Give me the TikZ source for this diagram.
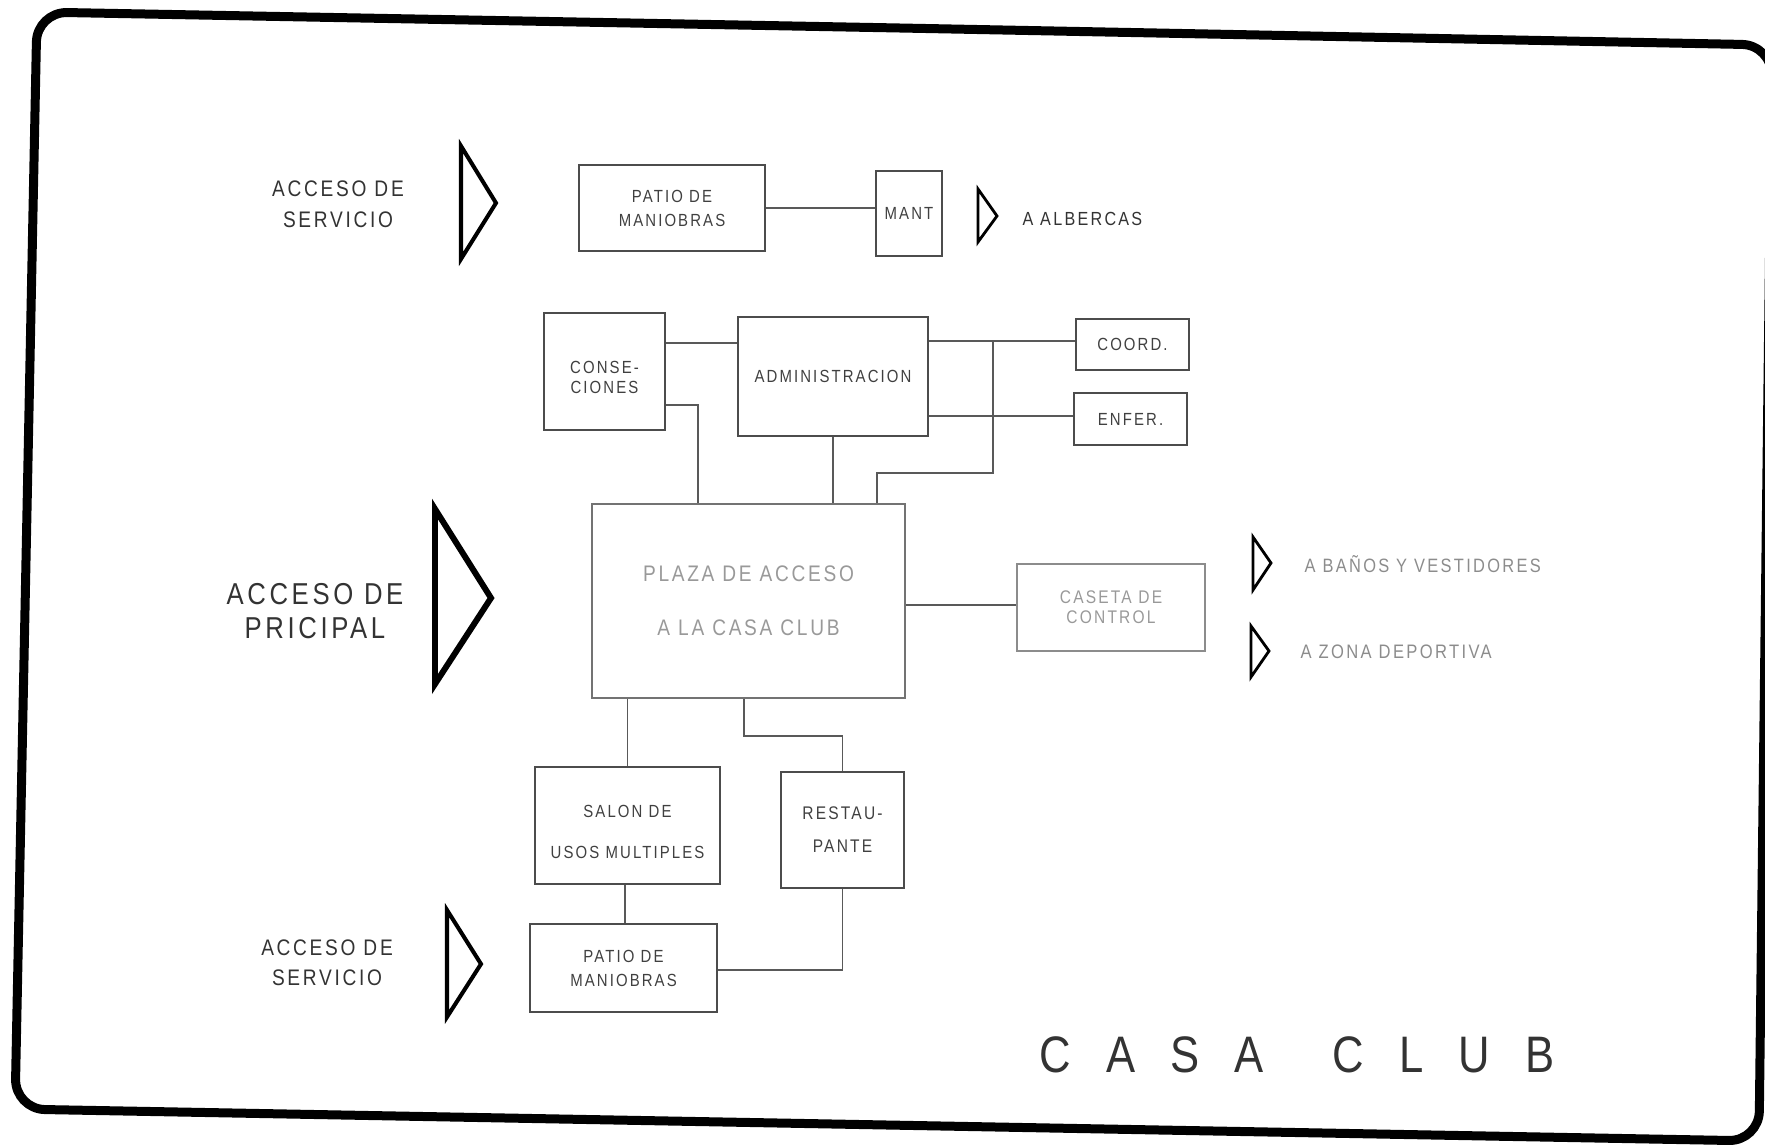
\documentclass[tikz,border=0pt]{standalone}
\usepackage{fontspec}
% condensed, slightly tracked sans for the plotter-style lettering
\newfontfamily\plotfont[FakeStretch=0.85,LetterSpace=12]{Liberation Sans}
\newfontfamily\titlefont[FakeStretch=0.85]{Liberation Sans}

\tikzset{
  box/.style={draw=black!70, line width=0.5pt, inner sep=0pt, align=center,
    text=black!75, font=\plotfont\fontsize{5}{6.8}\selectfont},
  fadedbox/.style={box, draw=black!45, text=black!40},
  size/.style 2 args={minimum width=#1mm, minimum height=#2mm},
  link/.style={draw=black!65, line width=0.5pt},
  tag/.style={inner sep=0pt, align=center, text=black!80},
  portal/.style={line width=1.15pt, line join=miter},
  bigportal/.style={line width=1.7pt, line join=miter},
  smallportal/.style={line width=0.8pt, line join=miter},
}

\begin{document}
\begin{tikzpicture}[x=0.1mm,y=-0.1mm]
\useasboundingbox (0,0) rectangle (1765,1145);

% sheet frame
\draw[line width=0.9mm, rounded corners=3mm]
  (900,28) -- (1772,45) -- (1759,1141) -- (15,1109) -- (37,12) -- cycle;

% ---- service yard row ----
\node[tag, font=\plotfont\fontsize{6.4}{8.8}\selectfont] (accA) at (338,204) {ACCESO DE\\SERVICIO};
\draw[portal] (461,146) -- (496,203) -- (461,259) -- cycle;

\node[box, size={18.6}{8.6}] (pmA) at (672,208) {PATIO DE\\MANIOBRAS};
\node[box, size={6.6}{8.5}] (mant) at (909,213.5) {MANT};
\draw[smallportal] (978,189) -- (997,216) -- (978,242) -- cycle;
\node[tag, anchor=west, font=\plotfont\fontsize{5.4}{7}\selectfont] (alb) at (1022,219) {A ALBERCAS};

% ---- administration block ----
\node[box, size={12.1}{11.7}, text height=12.7pt, font=\plotfont\fontsize{5}{5.8}\selectfont] (cons) at (604.5,371.5) {CONSE-\\CIONES};
\node[box, size={19.0}{11.9}] (adm) at (833,376.5) {ADMINISTRACION};
\node[box, size={11.3}{5.1}] (coord) at (1132.5,344.5) {COORD.};
\node[box, size={11.3}{5.2}] (enfer) at (1130.5,419) {ENFER.};

% ---- access plaza ----
\node[tag, font=\plotfont\fontsize{8.6}{9.7}\selectfont] (accB) at (315,611) {ACCESO DE\\PRICIPAL};
\draw[bigportal] (435,509) -- (491,598) -- (435,684) -- cycle;

\node[box, draw=black!55, size={31.3}{19.4}, text=black!40,
  font=\plotfont\fontsize{6.4}{15.4}\selectfont] (plaza) at (748.5,601) {PLAZA DE ACCESO\\A LA CASA CLUB};
\node[fadedbox, size={18.8}{8.7}, font=\plotfont\fontsize{5.2}{5.8}\selectfont] (caseta) at (1111,607.5) {CASETA DE\\CONTROL};

\draw[smallportal] (1253,537) -- (1271,563) -- (1253,590) -- cycle;
\node[tag, anchor=west, text=black!45, font=\plotfont\fontsize{5.5}{7}\selectfont] (banos) at (1304,564) {A BAÑOS Y VESTIDORES};
\draw[smallportal] (1251,626) -- (1269,651) -- (1251,677) -- cycle;
\node[tag, anchor=west, text=black!45, font=\plotfont\fontsize{5.55}{7}\selectfont] (zona) at (1300,652) {A ZONA DEPORTIVA};

% ---- lower block ----
\node[box, size={18.5}{11.7}, text height=18.9pt, font=\plotfont\fontsize{5}{11.7}\selectfont] (salon) at (627.5,825.5) {SALON DE\\USOS MULTIPLES};
\node[box, size={12.3}{11.6}, font=\plotfont\fontsize{5.2}{9.4}\selectfont] (rest) at (842.5,830) {RESTAU-\\PANTE};
\node[box, size={18.7}{8.8}] (pmB) at (623.5,968) {PATIO DE\\MANIOBRAS};

\node[tag, font=\plotfont\fontsize{6.4}{8.6}\selectfont] (accC) at (327,963) {ACCESO DE\\SERVICIO};
\draw[portal] (447,910) -- (481,964) -- (447,1017) -- cycle;

\node[tag, font=\titlefont\fontsize{14.6}{16}\selectfont] (title) at (1297,1055)
  {C\hspace{10pt}A\hspace{10pt}S\hspace{10pt}A\hspace{19.5pt}C\hspace{10pt}L\hspace{10pt}U\hspace{10pt}B};

% ---- connectors ----
\coordinate (y341) at (0,341);
\coordinate (y343) at (0,343);
\coordinate (y405) at (0,405);
\coordinate (y416) at (0,416);
\coordinate (y605) at (0,605);
\coordinate (y736) at (0,736);
\coordinate (y970) at (0,970);
\coordinate (x698) at (698,0);
\coordinate (x744) at (744,0);
\coordinate (x625) at (625,0);
\coordinate (jbus) at (993,341);
\coordinate (bus) at (993,473);
\coordinate (drop) at (877,473);

\draw[link] (pmA.east) -- (pmA.east -| mant.west);
\draw[link] (cons.east |- y343) -- (adm.west |- y343);
\draw[link] (adm.east |- y341) -- (coord.west |- y341);
\draw[link] (adm.east |- y416) -- (enfer.west |- y416);
\draw[link] (jbus) -- (bus) -- (drop) -- (drop |- plaza.north);
\draw[link] (adm.south) -- (adm.south |- plaza.north);
\draw[link] (cons.east |- y405) -| (x698 |- plaza.north);
\draw[link] (plaza.east |- y605) -- (caseta.west |- y605);
\draw[link] (salon.north |- plaza.south) -- (salon.north);
\draw[link] (x744 |- plaza.south) |- (y736 -| rest.north) -- (rest.north);
\draw[link] (x625 |- salon.south) -- (x625 |- pmB.north);
\draw[link] (pmB.east |- y970) -| (rest.south);
\end{tikzpicture}
\end{document}
